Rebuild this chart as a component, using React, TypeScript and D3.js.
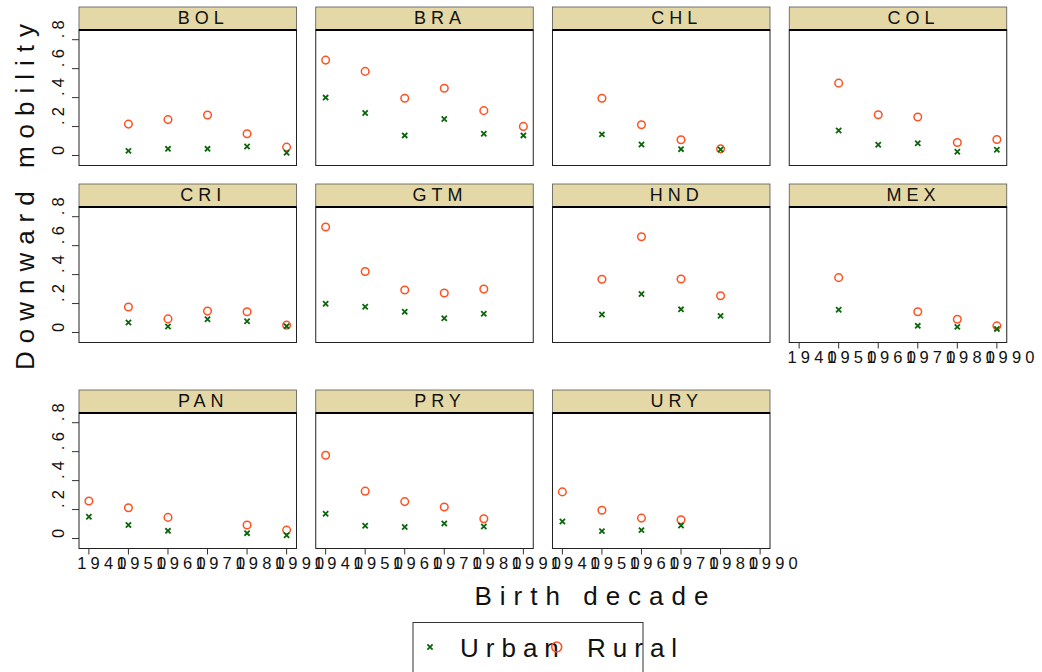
import React from "react";
import * as d3 from "d3";

const decades = [1940, 1950, 1960, 1970, 1980, 1990];
const countries = ["BOL", "BRA", "CHL", "COL", "CRI", "GTM", "HND", "MEX", "PAN", "PRY", "URY"];
const yTicks = [0, 0.2, 0.4, 0.6, 0.8];
const yTickLabels = ["0", ".2", ".4", ".6", ".8"];
const xTickLabels = ["1940", "1950", "1960", "1970", "1980", "1990"];

// values per decade 1940..1990 (null = no observation)
const urbanBOL = [null, 0.032, 0.046, 0.046, 0.062, 0.019];
const ruralBOL = [null, 0.217, 0.248, 0.28, 0.15, 0.058];
const urbanBRA = [0.4, 0.294, 0.139, 0.252, 0.15, 0.139];
const ruralBRA = [0.659, 0.581, 0.396, 0.465, 0.31, 0.201];
const urbanCHL = [null, 0.146, 0.076, 0.044, 0.042, null];
const ruralCHL = [null, 0.396, 0.213, 0.109, 0.046, null];
const urbanCOL = [null, 0.173, 0.074, 0.085, 0.026, 0.04];
const ruralCOL = [null, 0.5, 0.282, 0.266, 0.09, 0.111];
const urbanCRI = [null, 0.069, 0.042, 0.092, 0.078, 0.044];
const ruralCRI = [null, 0.176, 0.094, 0.148, 0.143, 0.051];
const urbanGTM = [0.199, 0.178, 0.143, 0.099, 0.129, null];
const ruralGTM = [0.729, 0.421, 0.294, 0.273, 0.3, null];
const urbanHND = [null, 0.125, 0.266, 0.16, 0.115, null];
const ruralHND = [null, 0.368, 0.661, 0.37, 0.254, null];
const urbanMEX = [null, 0.157, null, 0.046, 0.039, 0.025];
const ruralMEX = [null, 0.379, null, 0.143, 0.092, 0.046];
const urbanPAN = [0.15, 0.093, 0.053, null, 0.037, 0.023];
const ruralPAN = [0.259, 0.213, 0.146, null, 0.093, 0.058];
const urbanPRY = [0.171, 0.088, 0.079, 0.104, 0.083, null];
const ruralPRY = [0.575, 0.327, 0.255, 0.218, 0.136, null];
const urbanURY = [0.118, 0.051, 0.058, 0.09, null, null];
const ruralURY = [0.322, 0.195, 0.141, 0.129, null, null];

const urbanSeries = [urbanBOL, urbanBRA, urbanCHL, urbanCOL, urbanCRI, urbanGTM, urbanHND, urbanMEX, urbanPAN, urbanPRY, urbanURY];
const ruralSeries = [ruralBOL, ruralBRA, ruralCHL, ruralCOL, ruralCRI, ruralGTM, ruralHND, ruralMEX, ruralPAN, ruralPRY, ruralURY];

// layout
const colLeft0 = 79;
const colStep = 236.75;
const rowTops = [7, 184, 390];
const panelW = 217.5;
const stripH = 23;
const plotH = 135.5;

const GREEN = "#0b650b";
const ORANGE = "#ff5020";
const STRIP = "#E4D9A6";
const FONT = "'Liberation Sans', Arial, Helvetica, sans-serif";

const xScale = d3.scaleLinear().domain([1937.5, 1992.5]).range([0, panelW]);
const yScale = d3.scaleLinear().domain([-0.069, 0.867]).range([plotH, 0]);

function XMark({ cx, cy, s = 2.6, color = GREEN }) {
  return (
    <path
      d={`M${cx - s},${cy - s}L${cx + s},${cy + s}M${cx - s},${cy + s}L${cx + s},${cy - s}`}
      stroke={color}
      strokeWidth={1.8}
      fill="none"
    />
  );
}

function Panel({ idx }) {
  const name = countries[idx];
  const row = Math.floor(idx / 4);
  const col = idx % 4;
  const left = colLeft0 + col * colStep;
  const top = rowTops[row];
  const plotTop = top + stripH;
  const showY = col === 0;
  const showX = idx >= 7; // MEX, PAN, PRY, URY
  const urban = urbanSeries[idx];
  const rural = ruralSeries[idx];
  const tfs = 16.5;
  const tls = 4.2;
  return (
    <g>
      {/* strip */}
      <rect x={left} y={top} width={panelW} height={stripH} fill={STRIP} stroke="#555" strokeWidth={0.8} />
      <text
        x={left + panelW / 2 + 13 + 2.5}
        y={top + 16.5}
        textAnchor="middle"
        fontFamily={FONT}
        fontSize={18}
        letterSpacing={5}
        fill="#111"
      >
        {name}
      </text>
      {/* plot frame */}
      <rect x={left} y={plotTop} width={panelW} height={plotH} fill="#fff" stroke="#222" strokeWidth={1} />
      <line x1={left} x2={left + panelW} y1={plotTop} y2={plotTop} stroke="#000" strokeWidth={2} />
      <g transform={`translate(${left},${plotTop})`}>
        {rural.map((v, i) =>
          v == null ? null : (
            <circle key={"r" + i} cx={xScale(decades[i])} cy={yScale(v)} r={3.8} fill="none" stroke={ORANGE} strokeWidth={1.5} />
          )
        )}
        {urban.map((v, i) =>
          v == null ? null : <XMark key={"u" + i} cx={xScale(decades[i])} cy={yScale(v)} />
        )}
        {showY &&
          yTicks.map((t, i) => {
            const yy = yScale(t);
            const shift = yTickLabels[i].length === 1 ? 5 : 10.5;
            return (
              <g key={"yt" + i}>
                <line x1={-7} x2={0} y1={yy} y2={yy} stroke="#333" strokeWidth={1} />
                <text
                  transform={`translate(${-15},${yy - shift - tls / 2}) rotate(-90)`}
                  textAnchor="middle"
                  fontFamily={FONT}
                  fontSize={tfs}
                  letterSpacing={tls}
                  fill="#111"
                >
                  {yTickLabels[i]}
                </text>
              </g>
            );
          })}
        {showX &&
          decades.map((d, i) => {
            const xx = xScale(d);
            return (
              <g key={"xt" + i}>
                <line x1={xx} x2={xx} y1={plotH} y2={plotH + 6} stroke="#333" strokeWidth={1} />
                <text
                  x={xx + 13 + tls / 2}
                  y={plotH + 20}
                  textAnchor="middle"
                  fontFamily={FONT}
                  fontSize={tfs}
                  letterSpacing={tls}
                  fill="#111"
                >
                  {xTickLabels[i]}
                </text>
              </g>
            );
          })}
      </g>
    </g>
  );
}

export default function App() {
  return (
    <svg
      width={1042}
      height={672}
      viewBox="0 0 1042 672"
      style={{ position: "absolute", left: 0, top: 0, background: "#fff" }}
    >
      <rect x={0} y={0} width={1042} height={672} fill="#fff" />
      {countries.map((c, i) => (
        <Panel key={c} idx={i} />
      ))}
      {/* axis titles */}
      <text
        transform={`translate(33.5,${197 - 4}) rotate(-90)`}
        textAnchor="middle"
        fontFamily={FONT}
        fontSize={26}
        letterSpacing={8}
        fill="#111"
      >
        Downward mobility
      </text>
      <text x={591.5 + 4} y={605} textAnchor="middle" fontFamily={FONT} fontSize={26} letterSpacing={8} fill="#111">
        Birth decade
      </text>
      {/* legend */}
      <rect x={413} y={622.5} width={230} height={60} fill="#fff" stroke="#333" strokeWidth={1} />
      <XMark cx={430} cy={647} />
      <text x={460} y={657} fontFamily={FONT} fontSize={26} letterSpacing={7} fill="#111">
        Urban
      </text>
      <circle cx={556.7} cy={647} r={5} fill="none" stroke={ORANGE} strokeWidth={1.6} />
      <text x={587} y={657} fontFamily={FONT} fontSize={26} letterSpacing={7} fill="#111">
        Rural
      </text>
    </svg>
  );
}
